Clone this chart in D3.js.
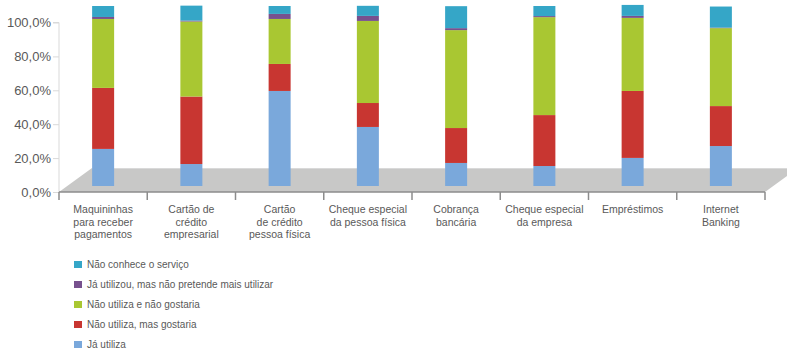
<!DOCTYPE html>
<html>
<head>
<meta charset="utf-8">
<script src="https://cdn.jsdelivr.net/npm/d3@7/dist/d3.min.js"></script>
<style>
  html, body { margin: 0; padding: 0; background: #fff; }
  svg { display: block; font-family: "Liberation Sans", Arial, sans-serif; }
</style>
</head>
<body>
<svg id="chart" width="787" height="350"></svg>
<script>
// Services (x categories) and the line breaks used for their labels
const categories = [
  "Maquininhas para receber pagamentos",
  "Cartão de crédito empresarial",
  "Cartão de crédito pessoa física",
  "Cheque especial da pessoa física",
  "Cobrança bancária",
  "Cheque especial da empresa",
  "Empréstimos",
  "Internet Banking"
];
const categoryLines = [
  ["Maquininhas", "para receber", "pagamentos"],
  ["Cartão de", "crédito", "empresarial"],
  ["Cartão", "de crédito", "pessoa física"],
  ["Cheque especial", "da pessoa física"],
  ["Cobrança", "bancária"],
  ["Cheque especial", "da empresa"],
  ["Empréstimos"],
  ["Internet", "Banking"]
];

// Share of respondents (%) per answer, one value per service
const jaUtiliza            = [20.6, 12.2, 52.8, 32.8, 12.8, 11.1, 15.6, 22.2];
const naoUtilizaMasGostaria = [33.9, 37.5, 15.0, 13.3, 19.4, 28.3, 37.2, 22.2];
const naoUtilizaNaoGostaria = [38.3, 41.7, 25.0, 45.6, 54.4, 54.4, 40.6, 43.3];
const jaUtilizouNaoPretende = [1.1, 0.5, 2.8, 2.8, 1.1, 0.6, 1.1, 0.3];
const naoConhece            = [6.1, 8.3, 4.4, 5.6, 12.2, 5.6, 6.1, 11.7];

// Series in stacking order (bottom to top)
const seriesNames = [
  "Já utiliza",
  "Não utiliza, mas gostaria",
  "Não utiliza e não gostaria",
  "Já utilizou, mas não pretende mais utilizar",
  "Não conhece o serviço"
];
const seriesValues = [jaUtiliza, naoUtilizaMasGostaria, naoUtilizaNaoGostaria, jaUtilizouNaoPretende, naoConhece];
const seriesColors = ["#7aa8db", "#c83631", "#a9c732", "#77518e", "#35a6c7"];

const yTicks = [0, 20, 40, 60, 80, 100];

// Build rows for d3.stack
const rows = categories.map((c, i) => {
  const r = { category: c };
  seriesNames.forEach((s, k) => { r[s] = seriesValues[k][i]; });
  return r;
});
const stacked = d3.stack().keys(seriesNames)(rows);

const svg = d3.select("#chart");

// Front plane of the value axis
const axisLeft = 59, axisRight = 765;
const y = d3.scaleLinear().domain([0, 100]).range([192, 22.5]);
// Bars stand a little behind the front plane (oblique depth)
const depthDx = 33, depthDy = -24;
const yBar = d3.scaleLinear().domain([0, 100]).range([186, 6]);

const x = d3.scaleBand().domain(categories).range([axisLeft, axisRight]).padding(0);
const barW = 22;

// Floor of the 3D plot
const floorFront = y(0), floorBack = y(0) + depthDy;
svg.append("path")
  .attr("d", d3.line()([
    [axisLeft, floorFront],
    [axisLeft + depthDx, floorBack],
    [axisRight + depthDx, floorBack],
    [axisRight, floorFront]
  ]) + "Z")
  .attr("fill", "#c8c8c7");
svg.append("line")
  .attr("x1", axisLeft + depthDx).attr("x2", axisRight + depthDx)
  .attr("y1", floorBack + 0.5).attr("y2", floorBack + 0.5)
  .attr("stroke", "#d9d9d9").attr("stroke-width", 1);

// Value axis
const loc = d3.formatLocale({ decimal: ",", thousands: ".", grouping: [3], currency: ["", ""] });
const fmt = v => loc.format(".1f")(v) + "%";
const yAxis = svg.append("g")
  .attr("transform", `translate(${axisLeft},0)`)
  .call(d3.axisLeft(y).tickValues(yTicks).tickFormat(fmt).tickSize(6).tickPadding(2));
yAxis.select(".domain").attr("stroke", "#d9d9d9").attr("d", `M-6,${y(100)}H0V${y(0)}`);
yAxis.selectAll(".tick line").attr("stroke", "#d9d9d9");
yAxis.selectAll(".tick text")
  .attr("fill", "#595959")
  .style("font-size", "13px");

// Stacked bars
svg.append("g").selectAll("g")
  .data(stacked)
  .join("g")
  .attr("fill", (d, i) => seriesColors[i])
  .selectAll("rect")
  .data(d => d)
  .join("rect")
  .attr("x", d => x(d.data.category) + (x.bandwidth() - barW) / 2)
  .attr("width", barW)
  .attr("y", d => yBar(d[1]))
  .attr("height", d => yBar(d[0]) - yBar(d[1]));

// Category axis along the front edge of the floor
const xAxis = svg.append("g").attr("transform", `translate(0,${y(0)})`);
xAxis.append("line")
  .attr("x1", axisLeft).attr("x2", axisRight)
  .attr("y1", 0).attr("y2", 0)
  .attr("stroke", "#8c8c8c").attr("stroke-width", 1.5);
const boundaries = categories.map(c => x(c)).concat([axisRight]);
xAxis.selectAll("line.tick")
  .data(boundaries)
  .join("line")
  .attr("class", "tick")
  .attr("x1", d => d).attr("x2", d => d)
  .attr("y1", 0).attr("y2", 8)
  .attr("stroke", "#8c8c8c").attr("stroke-width", 1.5);

const catLabels = svg.append("g").selectAll("text")
  .data(categories)
  .join("text")
  .attr("x", d => x(d) + x.bandwidth() / 2)
  .attr("y", 213)
  .attr("text-anchor", "middle")
  .attr("fill", "#595959")
  .style("font-size", "10.5px");
catLabels.selectAll("tspan")
  .data((d, i) => categoryLines[i])
  .join("tspan")
  .attr("x", function () { return this.parentNode.getAttribute("x"); })
  .attr("dy", (d, i) => i === 0 ? 0 : 12.5)
  .text(d => d);

// Legend (top entry is the top of the stack)
const legendOrder = d3.range(seriesNames.length).reverse();
const legend = svg.append("g").selectAll("g")
  .data(legendOrder)
  .join("g")
  .attr("transform", (k, i) => `translate(74,${264.5 + i * 20})`);
legend.append("rect")
  .attr("x", 0).attr("y", -3.5)
  .attr("width", 8).attr("height", 7)
  .attr("fill", k => seriesColors[k]);
legend.append("text")
  .attr("x", 13).attr("y", 3.6)
  .attr("fill", "#595959")
  .style("font-size", "10px")
  .text(k => seriesNames[k]);
</script>
</body>
</html>
